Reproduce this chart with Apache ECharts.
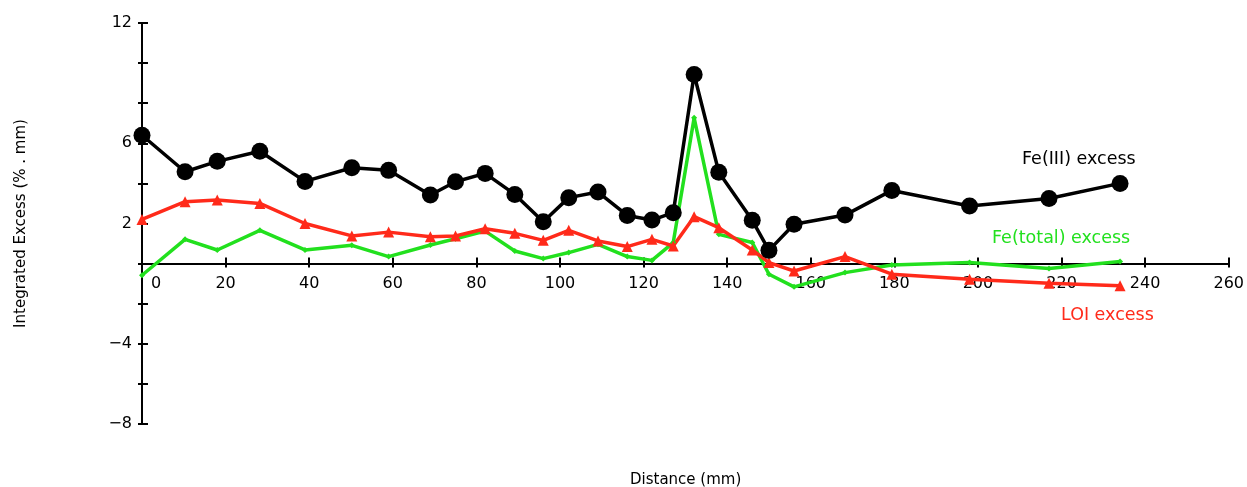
<!DOCTYPE html>
<html>
<head>
<meta charset="utf-8">
<script src="https://cdn.jsdelivr.net/npm/echarts@6/dist/echarts.min.js"></script>
<style>html,body{margin:0;padding:0;background:#fff;}#c{width:1247px;height:487px;}</style>
</head>
<body>
<div id="c"></div>
<script>
// Distances (mm)
const distance = [0, 10.3, 18, 28.2, 39, 50.2, 59, 69, 75, 82.1, 89.2, 96, 102.1, 109.1, 116.1, 122, 127.1, 132.1, 138, 146, 150, 156, 168.2, 179.4, 198, 217, 234];
// Fe(III) excess
const fe3 = [6.4, 4.58, 5.1, 5.6, 4.1, 4.78, 4.65, 3.42, 4.08, 4.5, 3.45, 2.09, 3.29, 3.57, 2.4, 2.17, 2.54, 9.43, 4.56, 2.16, 0.66, 1.96, 2.42, 3.65, 2.87, 3.25, 4.0];
// LOI excess
const loi = [2.2, 3.09, 3.17, 3.0, 2.0, 1.38, 1.57, 1.34, 1.38, 1.74, 1.51, 1.16, 1.66, 1.13, 0.85, 1.21, 0.88, 2.34, 1.79, 0.68, 0.05, -0.37, 0.35, -0.53, -0.78, -0.98, -1.11];
// Fe(total) excess
const feTot = [-0.58, 1.21, 0.68, 1.66, 0.68, 0.91, 0.35, 0.93, 1.24, 1.62, 0.63, 0.25, 0.55, 0.96, 0.35, 0.16, 1.05, 7.27, 1.46, 1.05, -0.53, -1.16, -0.45, -0.07, 0.05, -0.25, 0.1];
// Tick labels shown on the y axis
const yTickLabels = [12, 6, 2, -4, -8];
const seriesNames = ['Fe(III) excess', 'Fe(total) excess', 'LOI excess'];

const FONT = 'DejaVu Sans';
const pair = (ys) => distance.map((x, i) => [x, ys[i]]);

const GRID = { left: 142, right: 15, top: 23, bottom: 63 };
const Y_MIN = -8, Y_MAX = 12;
const plotH = 487 - GRID.top - GRID.bottom;
// move x axis up so it sits at y = 0
const zeroOffset = -plotH * (0 - Y_MIN) / (Y_MAX - Y_MIN);

const xBase = {
  type: 'value', min: 0, max: 260, interval: 20,
  position: 'bottom', offset: zeroOffset,
  splitLine: { show: false }
};
const yBase = {
  type: 'value', min: Y_MIN, max: Y_MAX, interval: 2,
  splitLine: { show: false }
};

const chart = echarts.init(document.getElementById('c'));
chart.setOption({
  animation: false,
  backgroundColor: '#fff',
  grid: GRID,
  xAxis: [
    Object.assign({}, xBase, {
      axisLine: { onZero: false, lineStyle: { color: '#000', width: 2 } },
      axisTick: { show: true, inside: false, length: 4, lineStyle: { color: '#000', width: 2 } },
      axisLabel: {
        color: '#000', fontFamily: FONT, fontSize: 16, margin: 12,
        formatter: (v) => v === 0 ? '{z|0}' : String(v),
        rich: { z: { padding: [0, 0, 0, 28], fontFamily: FONT, fontSize: 16, color: '#000' } }
      }
    }),
    Object.assign({}, xBase, {
      axisLine: { show: false, onZero: false },
      axisTick: { show: true, inside: true, length: 6, lineStyle: { color: '#000', width: 2 } },
      axisLabel: { show: false }
    })
  ],
  yAxis: [
    Object.assign({}, yBase, {
      name: 'Integrated Excess (% . mm)',
      nameLocation: 'middle', nameRotate: 90, nameGap: 113,
      nameTextStyle: { color: '#000', fontFamily: FONT, fontSize: 15 },
      axisLine: { lineStyle: { color: '#000', width: 2 } },
      axisTick: { show: true, inside: false, length: 4, lineStyle: { color: '#000', width: 2 } },
      axisLabel: {
        color: '#000', fontFamily: FONT, fontSize: 16, margin: 10,
        formatter: (v) => yTickLabels.indexOf(v) >= 0 ? String(v).replace('-', '\u2212') : ''
      }
    }),
    Object.assign({}, yBase, {
      position: 'left',
      axisLine: { show: false },
      axisTick: { show: true, inside: true, length: 6, lineStyle: { color: '#000', width: 2 } },
      axisLabel: { show: false }
    })
  ],
  graphic: [
    { type: 'text', left: 1022, top: 150, style: { text: seriesNames[0], fill: '#000', font: '17.5px "DejaVu Sans"' } },
    { type: 'text', left: 992, top: 229, style: { text: seriesNames[1], fill: '#22e01e', font: '17.5px "DejaVu Sans"' } },
    { type: 'text', left: 1061, top: 306, style: { text: seriesNames[2], fill: '#ff2a1a', font: '17.5px "DejaVu Sans"' } },
    { type: 'text', left: 630, top: 473, style: { text: 'Distance (mm)', fill: '#000', font: '15px "DejaVu Sans"' } }
  ],
  series: [
    {
      name: seriesNames[1], type: 'line', data: pair(feTot),
      symbol: 'diamond', symbolSize: 6,
      lineStyle: { color: '#22e01e', width: 3.5 },
      itemStyle: { color: '#22e01e' }
    },
    {
      name: seriesNames[2], type: 'line', data: pair(loi),
      symbol: 'triangle', symbolSize: 11,
      lineStyle: { color: '#ff2a1a', width: 3.5 },
      itemStyle: { color: '#ff2a1a' }
    },
    {
      name: seriesNames[0], type: 'line', data: pair(fe3),
      symbol: 'circle', symbolSize: 17,
      lineStyle: { color: '#000', width: 3.5 },
      itemStyle: { color: '#000' }
    }
  ]
});
</script>
</body>
</html>
